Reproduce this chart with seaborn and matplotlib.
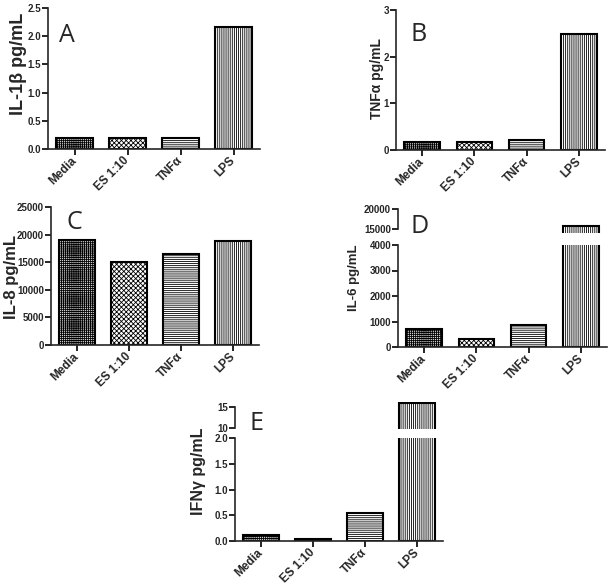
import seaborn as sns
import matplotlib.pyplot as plt
from matplotlib.ticker import FormatStrFormatter

# values
categories = ['Media', 'ES 1:10', 'TNFα', 'LPS']
il1b = [0.2, 0.2, 0.2, 2.17]
tnfa = [0.17, 0.17, 0.21, 2.49]
il8 = [19100, 15100, 16400, 18900]
il6 = [700, 320, 880, 15750]
ifng = [0.12, 0.04, 0.55, 15.9]

hatches = ['++++++++', 'xxxxxxx', '--------', '||||||||']
faces = ['#d4d4d4', 'white', 'white', 'white']

sns.set_style('ticks')
plt.rcParams['font.family'] = ['Liberation Sans', 'DejaVu Sans']
plt.rcParams['font.weight'] = 'bold'
plt.rcParams['hatch.linewidth'] = 0.6
plt.rcParams['axes.linewidth'] = 1.2

W, H = 612, 586
fig = plt.figure(figsize=(W / 100, H / 100), dpi=100)


def add_ax(l, r, t, b):
    return fig.add_axes([l / W, 1 - b / H, (r - l) / W, (b - t) / H])


def draw_bars(ax, values, xlabels=True):
    sns.barplot(x=categories, y=values, ax=ax, color='white', edgecolor='black',
                linewidth=1.5, width=0.68, saturation=1)
    for patch, h, fc in zip(ax.patches, hatches, faces):
        patch.set_hatch(h)
        patch.set_facecolor(fc)
    ax.set_xlim(-0.5, 3.5)
    ax.set_xlabel('')
    ax.set_ylabel('')
    sns.despine(ax=ax)
    ax.tick_params(axis='both', direction='out', length=4, width=1.2, color='black')
    ax.tick_params(axis='y', labelsize=7, pad=1)
    if xlabels:
        ax.set_xticks(range(len(categories)))
        ax.set_xticklabels(categories, rotation=45, ha='right', va='center',
                           rotation_mode='anchor', fontsize=8.5)
        ax.tick_params(axis='x', pad=3)
    else:
        ax.spines['bottom'].set_visible(False)
        ax.tick_params(axis='x', bottom=False, labelbottom=False)


# A - IL-1beta
axA = add_ax(48, 260, 8, 149)
draw_bars(axA, il1b)
axA.set_ylim(0, 2.5)
axA.set_yticks([0, 0.5, 1.0, 1.5, 2.0, 2.5])
axA.yaxis.set_major_formatter(FormatStrFormatter('%.1f'))

# B - TNFalpha
axB = add_ax(396, 605, 10, 150)
draw_bars(axB, tnfa)
axB.set_ylim(0, 3)
axB.set_yticks([0, 1, 2, 3])

# C - IL-8
axC = add_ax(51, 259, 207, 345)
draw_bars(axC, il8)
axC.set_ylim(0, 25000)
axC.set_yticks(range(0, 25001, 5000))

# D - IL-6 (broken axis)
axD = add_ax(398, 607, 245, 347)
draw_bars(axD, il6)
axD.set_ylim(0, 4000)
axD.set_yticks(range(0, 4001, 1000))
axD2 = add_ax(398, 607, 209, 233)
draw_bars(axD2, il6, xlabels=False)
axD2.set_ylim(14000, 20000)
axD2.set_yticks([15000, 20000])
axD2.spines['left'].set_bounds(15000, 20000)

# E - IFNgamma (broken axis)
axE = add_ax(235, 443, 438, 541)
draw_bars(axE, ifng)
axE.set_ylim(0, 2.0)
axE.set_yticks([0, 0.5, 1.0, 1.5, 2.0])
axE.yaxis.set_major_formatter(FormatStrFormatter('%.1f'))
axE2 = add_ax(235, 443, 402, 429)
draw_bars(axE2, ifng, xlabels=False)
axE2.set_ylim(9.76, 16.2)
axE2.set_yticks([10, 15])
axE2.spines['left'].set_bounds(10, 15)

# y-axis labels
ylabels = [
    ('IL-1β pg/mL', 18.5, 64, 13),
    ('TNFα pg/mL', 376.5, 79, 10),
    ('IL-8 pg/mL', 11.5, 277, 12),
    ('IL-6 pg/mL', 354, 278, 9.5),
    ('IFNγ pg/mL', 199, 471, 11.5),
]
for text, x, y, size in ylabels:
    fig.text(x / W, 1 - y / H, text, rotation=90, ha='center', va='center',
             fontsize=size, fontweight='bold')

# panel letters
letters = [('A', 59, 42), ('B', 411, 41), ('C', 66, 229), ('D', 411, 233), ('E', 249, 430)]
for text, x, y in letters:
    fig.text(x / W, 1 - y / H, text, ha='left', va='baseline', fontsize=18,
             fontweight='normal', family='Open Sans')

fig.savefig('out.png', dpi=100)
